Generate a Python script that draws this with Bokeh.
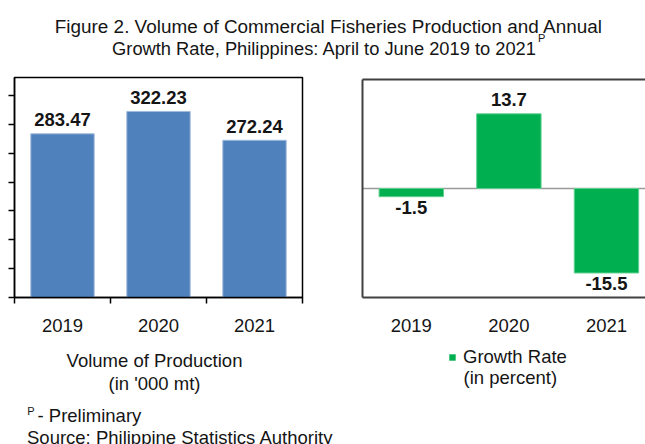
from bokeh.plotting import figure
from bokeh.models import (Range1d, LinearAxis, FixedTicker, ColumnDataSource, LabelSet,
                          Label, Span, Legend, LegendItem)
from bokeh.core.properties import value
from bokeh.layouts import column, row
from bokeh.embed import file_html
from bokeh.resources import INLINE

# ---- data ----
years = ["2019", "2020", "2021"]
volume = [283.47, 322.23, 272.24]          # '000 mt
growth = [-1.5, 13.7, -15.5]               # percent
vol_ticks = [0, 50, 100, 150, 200, 250, 300, 350]

title1 = "Figure 2. Volume of Commercial Fisheries Production and  Annual"
title2 = "Growth Rate, Philippines: April to June 2019 to 2021"

FONT = "Liberation Sans"
TXT = "#151515"
BLUE = "#4F81BD"
GREEN = "#00B050"


def base_fig(**kw):
    p = figure(output_backend="svg", toolbar_location=None, title=None,
               x_axis_location=None, y_axis_location=None, frame_align=False, **kw)
    p.background_fill_color = "white"
    p.border_fill_color = "white"
    p.grid.grid_line_color = None
    return p


def txt(x, y, s, size="18.5px", align="left"):
    return Label(x=x, y=y, x_units="screen", y_units="screen", text=s,
                 text_align=align, text_baseline="middle", text_font=FONT,
                 text_font_size=size, text_color=TXT)


# ---- title ----
tf = base_fig(width=645, height=68, x_range=Range1d(0, 1), y_range=Range1d(0, 1), min_border=0)
tf.outline_line_color = None
tf.add_layout(txt(331, 42.1, title1, size="18.9px", align="center"))
tf.add_layout(txt(324, 19.6, title2, size="18.3px", align="center"))
tf.add_layout(txt(537.5, 30.1, "P", size="11px"))

# ---- left panel: volume ----
xs = [i + 0.5 for i in range(len(years))]
lf = base_fig(width=348, height=280, x_range=Range1d(0, 3), y_range=Range1d(0, 381),
              min_border_left=14, min_border_right=46, min_border_top=9, min_border_bottom=51)
lf.outline_line_color = "black"
lf.outline_line_width = 1.5

lsrc = ColumnDataSource(dict(x=xs, top=volume, label=[f"{v:.2f}" for v in volume]))
lf.vbar(x="x", top="top", bottom=0, width=0.66, source=lsrc,
        fill_color=BLUE, line_color="#9fb9dc", line_width=1)
lf.add_layout(LabelSet(x="x", y="top", text="label", source=lsrc, y_offset=7.5,
                       text_align="center", text_baseline="alphabetic",
                       text_font=value(FONT), text_font_size=value("18.5px"),
                       text_font_style="bold", text_color=TXT))

ly = LinearAxis(ticker=FixedTicker(ticks=vol_ticks), major_tick_out=6, major_tick_in=0,
                major_label_text_font_size="0px", major_label_standoff=0,
                axis_line_color="black", axis_line_width=1.5,
                major_tick_line_color="black", major_tick_line_width=1.5,
                minor_tick_line_color=None)
lf.add_layout(ly, "left")

lx = LinearAxis(ticker=FixedTicker(ticks=xs, minor_ticks=list(range(len(years) + 1))),
                major_label_overrides={x: y for x, y in zip(xs, years)},
                major_tick_out=0, major_tick_in=0, minor_tick_out=6, minor_tick_in=0,
                minor_tick_line_color="black", minor_tick_line_width=1.5,
                axis_line_color="black", axis_line_width=1.5,
                major_label_standoff=15, major_label_text_font=FONT,
                major_label_text_font_size="18.5px", major_label_text_color=TXT)
lf.add_layout(lx, "below")

# ---- right panel: growth rate ----
rf = base_fig(width=297, height=280, x_range=Range1d(0, 2.9), y_range=Range1d(-20, 20),
              min_border_left=14, min_border_right=0, min_border_top=11, min_border_bottom=51)
rf.outline_line_color = None

rf.add_layout(Span(location=0, dimension="width", line_color="#9a9a9a", line_width=1.5,
                   level="underlay"))
rsrc = ColumnDataSource(dict(x=xs, top=growth))
rf.vbar(x="x", top="top", bottom=0, width=0.66, source=rsrc,
        fill_color=GREEN, line_color="#5fd08f", line_width=1)

pos = ColumnDataSource(dict(x=[x for x, v in zip(xs, growth) if v >= 0],
                            y=[v for v in growth if v >= 0],
                            label=[f"{v:.1f}" for v in growth if v >= 0]))
neg = ColumnDataSource(dict(x=[x for x, v in zip(xs, growth) if v < 0],
                            y=[v for v in growth if v < 0],
                            label=[f"{v:.1f}" for v in growth if v < 0]))
for s, off in ((pos, 7.7), (neg, -17)):
    rf.add_layout(LabelSet(x="x", y="y", text="label", source=s, y_offset=off,
                           text_align="center", text_baseline="alphabetic",
                           text_font=value(FONT), text_font_size=value("18.5px"),
                           text_font_style="bold", text_color=TXT))

for side in ("left", "above"):
    rf.add_layout(LinearAxis(ticker=FixedTicker(ticks=[]), major_tick_out=0, major_tick_in=0,
                             major_label_text_font_size="0px", major_label_standoff=0,
                             axis_line_color="#404040", axis_line_width=2,
                             minor_tick_line_color=None), side)
rf.add_layout(LinearAxis(ticker=FixedTicker(ticks=xs),
                         major_label_overrides={x: y for x, y in zip(xs, years)},
                         major_tick_out=0, major_tick_in=0, minor_tick_line_color=None,
                         axis_line_color="#404040", axis_line_width=2,
                         major_label_standoff=21, major_label_text_font=FONT,
                         major_label_text_font_size="18.5px", major_label_text_color=TXT),
              "below")

# ---- texts under the left panel ----
bl = base_fig(width=348, height=96, x_range=Range1d(0, 1), y_range=Range1d(0, 1), min_border=0)
bl.outline_line_color = None
bl.add_layout(txt(154, 84.3, "Volume of Production", align="center"))
bl.add_layout(txt(154, 61.3, "(in '000 mt)", align="center"))
bl.add_layout(txt(26.7, 34, "P", size="11px"))
bl.add_layout(txt(37, 28.7, "- Preliminary"))
bl.add_layout(txt(26.5, 7.3, "Source: Philippine Statistics Authority"))

# ---- legend under the right panel (series key; the series sits outside this view) ----
br = base_fig(width=297, height=96, x_range=Range1d(10, 11), y_range=Range1d(100, 101),
              min_border=0)
br.outline_line_color = None
key = br.vbar(x="x", top="top", bottom=0, width=0.66, source=rsrc,
              fill_color=GREEN, line_color=None)
legend = Legend(items=[LegendItem(label="Growth Rate", renderers=[key])],
                location=(100, 76.5), padding=0, margin=0, spacing=0,
                border_line_color=None, background_fill_alpha=0,
                glyph_width=8, glyph_height=8, label_height=21, label_standoff=7,
                label_text_font=FONT, label_text_font_size="18.5px", label_text_color=TXT)
br.add_layout(legend)
br.add_layout(txt(115, 67.3, "(in percent)"))

layout = column(tf, row(lf, rf), row(bl, br))
open("out.html", "w").write(file_html(layout, INLINE))
